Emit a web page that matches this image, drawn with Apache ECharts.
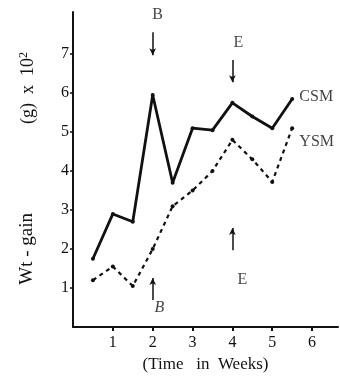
<!DOCTYPE html>
<html>
<head>
<meta charset="utf-8">
<title>Wt-gain CSM / YSM</title>
<script src="https://cdn.jsdelivr.net/npm/echarts@6/dist/echarts.min.js"></script>
<style>
  body { margin: 0; background: #fff; }
  #chart { width: 340px; height: 381px; }
</style>
</head>
<body>
<div id="chart"></div>
<script>
// data (weeks, g x 10^2)
var weeks = [0.5, 1, 1.5, 2, 2.5, 3, 3.5, 4, 4.5, 5, 5.5];
var csm = [1.75, 2.9, 2.7, 5.95, 3.7, 5.1, 5.05, 5.75, 5.4, 5.1, 5.85];
var ysm = [1.2, 1.55, 1.05, 2.0, 3.1, 3.5, 4.0, 4.8, 4.3, 3.72, 5.1];
var xTicks = [1, 2, 3, 4, 5, 6];
var yTicks = [1, 2, 3, 4, 5, 6, 7];

// arrows: [x, from, to]
var arrows = [[2, 7.56, 6.97], [4, 6.85, 6.28], [4, 1.97, 2.54], [2, 0.69, 1.26]];
// letters: [x, y, text, italic]
var letters = [[2.12, 8.0, 'B', false], [4.15, 7.3, 'E', false], [4.25, 1.2, 'E', false], [2.17, 0.5, 'B', true],
               [5.68, 5.9, 'CSM', false], [5.68, 4.74, 'YSM', false]];

var serif = 'Liberation Serif';

var chart = echarts.init(document.getElementById('chart'));

function pair(a, b) {
    var res = [];
    for (var i = 0; i < a.length; i++) res.push([a[i], b[i]]);
    return res;
}

var option = {
    animation: false,
    grid: { left: 73, right: 2, top: 12, bottom: 54 },
    xAxis: {
        type: 'value', min: 0, max: 6.65, interval: 1,
        name: '(Time   in  Weeks)', nameLocation: 'middle', nameGap: 29,
        nameTextStyle: { fontFamily: serif, fontSize: 17, color: '#111' },
        axisLine: { lineStyle: { color: '#111', width: 2 } },
        axisTick: { customValues: xTicks, length: 4, lineStyle: { color: '#111', width: 2 } },
        axisLabel: { customValues: xTicks, fontFamily: serif, fontSize: 16, color: '#111', margin: 8 },
        splitLine: { show: false }
    },
    yAxis: {
        type: 'value', min: 0, max: 8.08, interval: 1,
        axisLine: { lineStyle: { color: '#111', width: 2 } },
        axisTick: { customValues: yTicks, length: 3, lineStyle: { color: '#111', width: 1.5 } },
        axisLabel: { customValues: yTicks, fontFamily: serif, fontSize: 16, color: '#111', margin: 4 },
        splitLine: { show: false }
    },
    graphic: [
        { type: 'text', left: 18, top: 213, rotation: Math.PI / 2, style: {
            text: 'Wt - gain', font: '19px "Liberation Serif"', fill: '#111' } },
        { type: 'text', left: 18, top: 52, rotation: Math.PI / 2, style: {
            text: '(g)  x  10{s|2}', font: '18px "Liberation Serif"', fill: '#111',
            rich: { s: { fontSize: 12, verticalAlign: 'top', fontFamily: serif, padding: [0, 0, 9, 0] } } } }
    ],
    series: [
        {
            name: 'CSM', type: 'line', data: pair(weeks, csm),
            symbol: 'circle', symbolSize: 4,
            lineStyle: { color: '#111', width: 2.8 },
            itemStyle: { color: '#111' }
        },
        {
            name: 'YSM', type: 'line', data: pair(weeks, ysm),
            symbol: 'circle', symbolSize: 4,
            lineStyle: { color: '#111', width: 2.2, type: [4, 4] },
            itemStyle: { color: '#111' }
        },
        {
            name: 'arrows', type: 'line', data: [],
            markLine: {
                silent: true, symbol: ['none', 'arrow'], symbolSize: [5, 7],
                label: { show: false },
                lineStyle: { color: '#111', width: 1.5, type: 'solid' },
                data: arrows.map(function (a) { return [{ coord: [a[0], a[1]] }, { coord: [a[0], a[2]] }]; })
            }
        },
        {
            name: 'letters', type: 'scatter', symbolSize: 0,
            data: letters.map(function (l) {
                return { value: [l[0], l[1]], label: { show: true, formatter: l[2], position: 'inside',
                    fontFamily: serif, fontSize: 16, color: '#111', fontStyle: l[3] ? 'italic' : 'normal',
                    align: l[2].length > 1 ? 'left' : 'center' } };
            })
        }
    ]
};

chart.setOption(option);
</script>
</body>
</html>
